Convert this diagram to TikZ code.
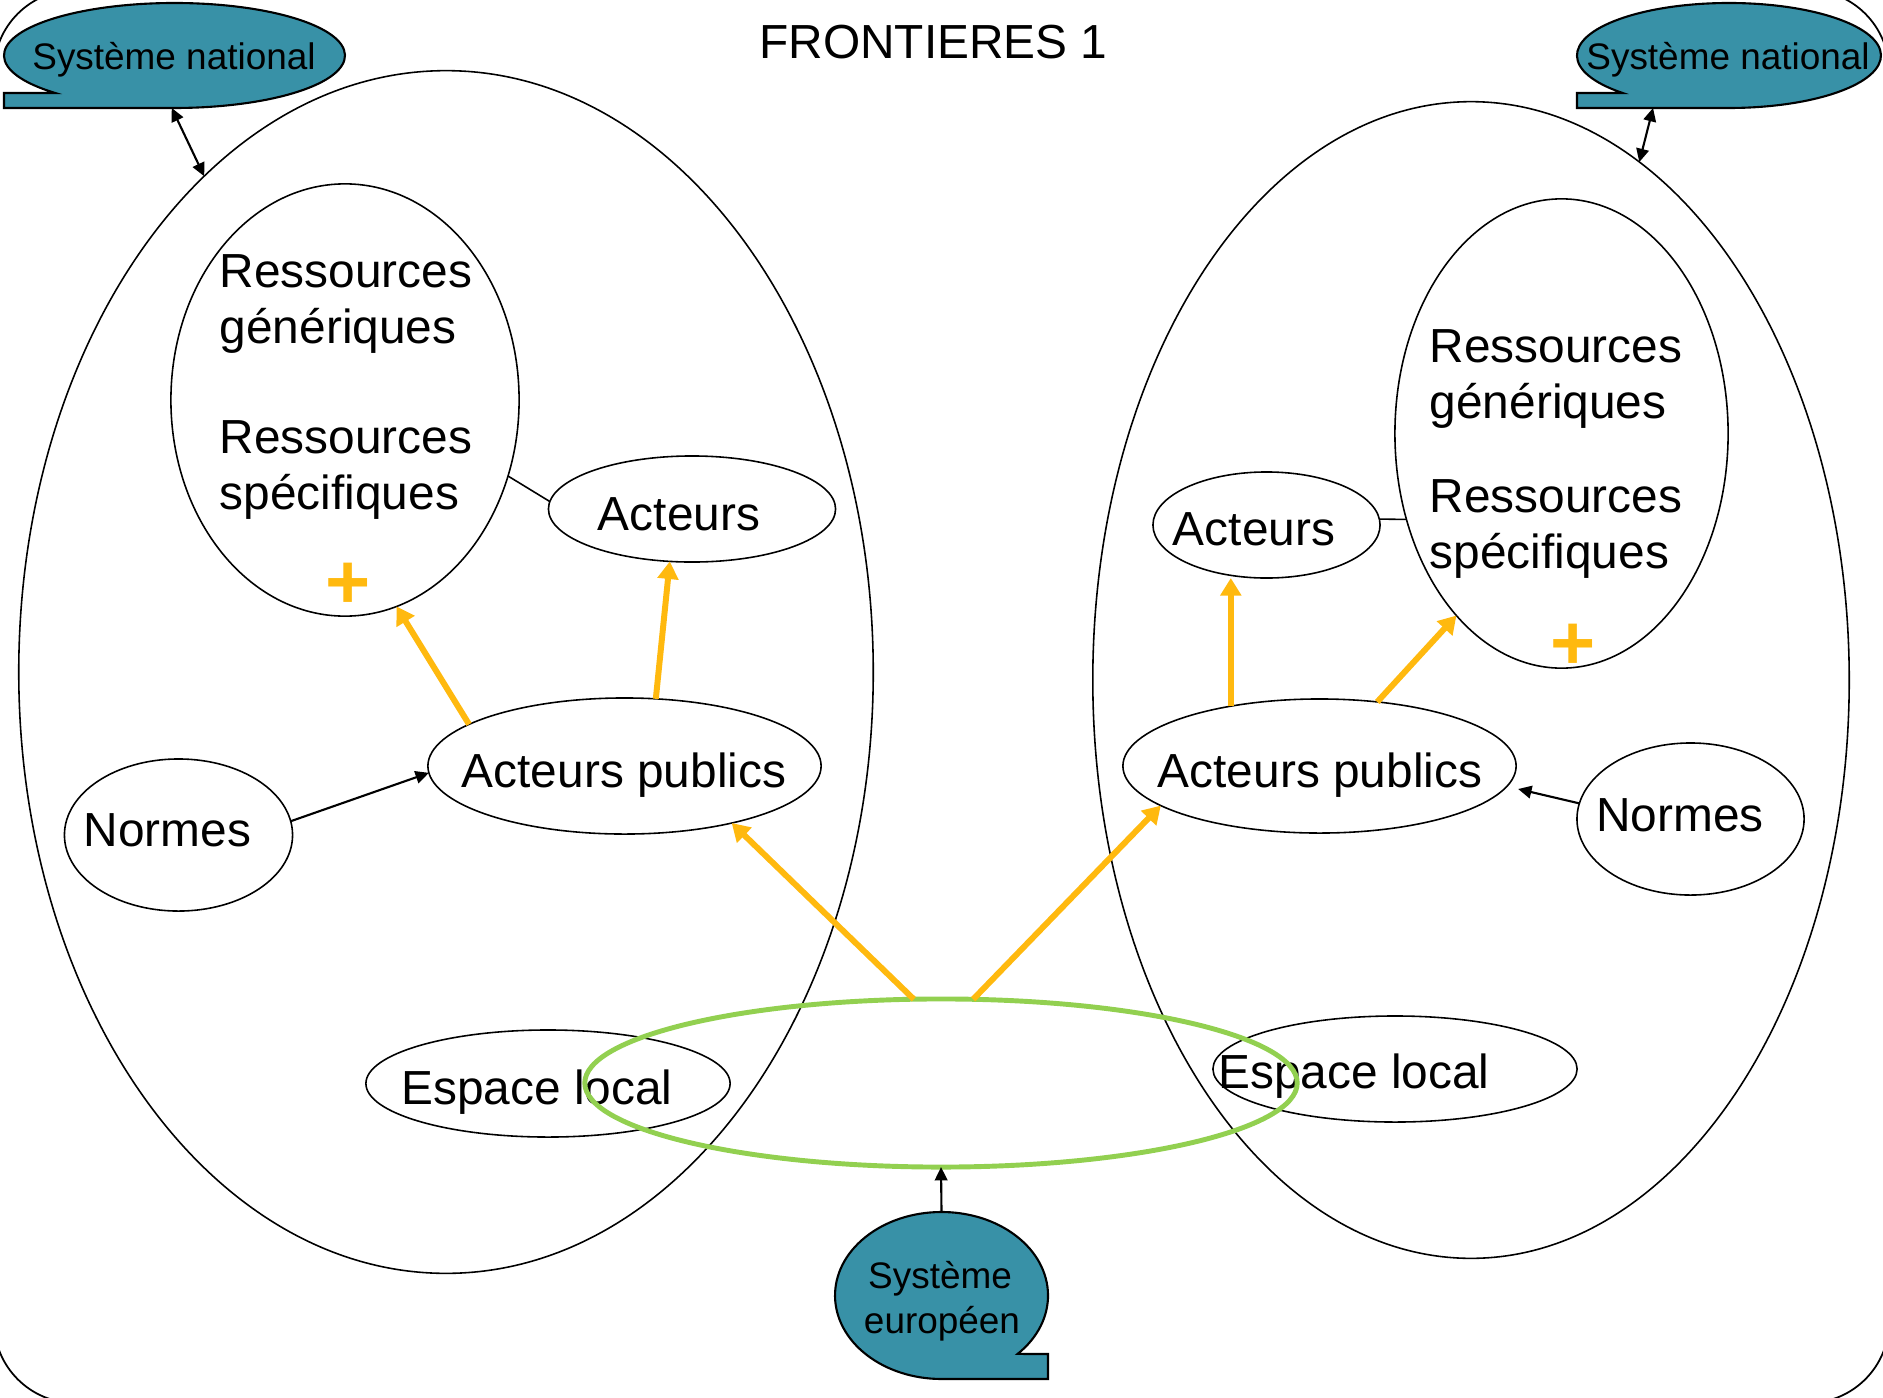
\documentclass[tikz,border=0pt]{standalone}
\usepackage{fontspec}
\setmainfont{Liberation Sans}
\usetikzlibrary{shapes.geometric,arrows.meta}
\definecolor{tealc}{RGB}{56,145,167}
\definecolor{orng}{RGB}{255,185,15}
\definecolor{grn}{RGB}{146,208,80}
\begin{document}
\begin{tikzpicture}[x=0.01cm,y=-0.01cm,
  ell/.style={ellipse, draw, line width=0.45pt, inner sep=0pt, outer sep=0pt},
  ghost/.style={ellipse, inner sep=0pt, outer sep=0pt},
  lbl/.style={inner sep=0pt, font=\fontsize{13.6}{16}\selectfont, anchor=base},
  lbll/.style={inner sep=0pt, font=\fontsize{13.6}{16}\selectfont, anchor=base west},
  clbl/.style={inner sep=0pt, font=\fontsize{10.5}{12.5}\selectfont, anchor=base},
  plus/.style={inner sep=0pt, font=\fontsize{22}{22}\selectfont\bfseries, text=orng, anchor=base},
  oarr/.style={draw=orng, line width=1.7pt, -{Triangle[length=5pt,width=5.8pt]}},
  barr/.style={line width=0.6pt, -{Triangle[length=3.8pt,width=3.6pt]}},
  dbarr/.style={line width=0.6pt, {Triangle[length=3.8pt,width=3.6pt]}-{Triangle[length=3.8pt,width=3.6pt]}},
  calloutbox/.style={fill=tealc, draw=black, line width=0.6pt},
]
\path[use as bounding box] (0,0) rectangle (1883,1397);
\clip (0,0) rectangle (1883,1397);
% frame
\draw[line width=0.5pt, rounded corners=0.81cm] (-6,-10) rectangle (1889,1403);

% title
\node[lbl, font=\fontsize{13.6}{16}\selectfont] (title) at (933.5,59) {FRONTIERES 1};

% big ellipses
\node[ell, minimum width=8.54cm, minimum height=12.02cm] (BL) at (446,672) {};
\node[ell, minimum width=7.56cm, minimum height=11.56cm] (BR) at (1471,680) {};

% left inner ellipses
\node[ell, minimum width=3.48cm, minimum height=4.32cm] (RL) at (345,400) {};
\node[ell, minimum width=2.87cm, minimum height=1.06cm] (AL) at (692,509) {};
\node[ell, minimum width=3.93cm, minimum height=1.36cm] (APL) at (624.5,766) {};
\node[ell, minimum width=2.28cm, minimum height=1.52cm] (NL) at (178.5,835) {};
\node[ell, minimum width=3.64cm, minimum height=1.07cm] (EL) at (548,1083.5) {};

% right inner ellipses
\node[ell, minimum width=3.33cm, minimum height=4.69cm] (RR) at (1561.5,433.5) {};
\node[ell, minimum width=2.27cm, minimum height=1.06cm] (AR) at (1266.5,525) {};
\node[ell, minimum width=3.93cm, minimum height=1.34cm] (APR) at (1319.5,766) {};
\node[ell, minimum width=2.27cm, minimum height=1.52cm] (NR) at (1690.5,819) {};
\node[ell, minimum width=3.64cm, minimum height=1.06cm] (ER) at (1395,1069) {};

% texts left
\node[lbll] (rl1) at (219,287) {Ressources};
\node[lbll] (rl2) at (219,343) {génériques};
\node[lbll] (rl3) at (219,453) {Ressources};
\node[lbll] (rl4) at (219,509) {spécifiques};
\node[plus] (pl) at (348,608) {+};
\node[lbl] (tAL) at (679,530) {Acteurs};
\node[lbl] (tAPL) at (624,787) {Acteurs publics};
\node[lbl] (tNL) at (167.5,846) {Normes};
\node[lbl] (tEL) at (537,1104) {Espace local};

% texts right
\node[lbll] (rr1) at (1429,362) {Ressources};
\node[lbll] (rr2) at (1429,418) {génériques};
\node[lbll] (rr3) at (1429,512) {Ressources};
\node[lbll] (rr4) at (1429,568) {spécifiques};
\node[plus] (pr) at (1573,669) {+};
\node[lbl] (tAR) at (1254,545) {Acteurs};
\node[lbl] (tAPR) at (1320,787) {Acteurs publics};
\node[lbl] (tNR) at (1680,831) {Normes};
\node[lbl] (tER) at (1354,1088) {Espace local};

% green ellipse
\node[ellipse, draw=grn, line width=1.4pt, inner sep=0pt, outer sep=0pt,
      minimum width=7.12cm, minimum height=1.68cm] (G) at (941,1083) {};

% callouts
\filldraw[calloutbox] (55.2,93) arc[start angle=134.4, end angle=450, x radius=170.5, y radius=52.5]
  -- (4,108) -- (4,93) -- cycle;
\node[ghost, minimum width=3.41cm, minimum height=1.05cm] (STL) at (174.5,55.5) {};
\node[clbl] (tSTL) at (174,70) {Système national};

\filldraw[calloutbox] (1622.6,93) arc[start angle=134.4, end angle=450, x radius=152, y radius=52.5]
  -- (1577,108) -- (1577,93) -- cycle;
\node[ghost, minimum width=3.04cm, minimum height=1.05cm] (STR) at (1729,55.5) {};
\coordinate (STRtail) at (1653,108);
\node[clbl] (tSTR) at (1728,70) {Système national};

\filldraw[calloutbox] (1017.6,1353.9) arc[start angle=44.4, end angle=-270, x radius=106.5, y radius=83.5]
  -- (1048,1379) -- (1048,1354) -- cycle;
\node[ghost, minimum width=2.13cm, minimum height=1.67cm] (SE) at (941.5,1295.5) {};
\node[clbl] (tSE1) at (940,1288) {Système};
\node[clbl] (tSE2) at (942,1333) {européen};

% black connectors
\draw[dbarr] (STL.267) -- (BL.116.7);
\draw[dbarr] (STRtail) -- (BR.72.1);
\draw[barr] (SE.north) -- (G.south);
\draw[barr] (NL.7.5) -- (APL.182);
\draw[barr] (NR.172) -- ([shift={(2,23)}]APR.east);
\draw[line width=0.45pt] (RL.335) -- (AL.177);
\draw[line width=0.45pt] (AR.3.5) -- (RR.209);

% orange arrows
\draw[oarr] (APL.165) -- (RL.284.5);
\draw[oarr] (APL.65.5) -- (AL.247.3);
\draw[oarr] (G.108.4) -- (APL.332.3);
\draw[oarr] (G.69.1) -- (APR.194.7);
\draw[oarr] (APR.146.7) -- (APR.146.7 |- AR.south);
\draw[oarr] (APR.48) -- (RR.240.5);
\end{tikzpicture}
\end{document}
